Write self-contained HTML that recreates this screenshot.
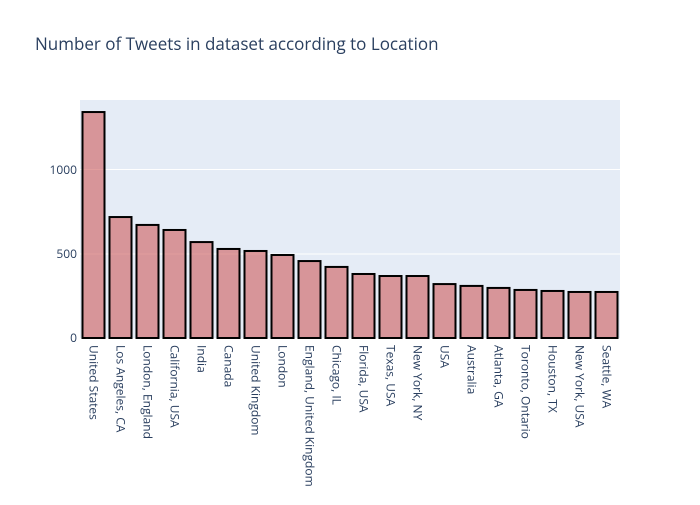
<!DOCTYPE html>
<html><head><style>body{margin:0;background:#fff}</style></head><body>
<svg width="700" height="500" xmlns="http://www.w3.org/2000/svg" font-family="'Open Sans','Liberation Sans',sans-serif">
<rect width="700" height="500" fill="#fff"/>
<text x="35" y="50" font-size="17" fill="#2a3f5f">Number of Tweets in dataset according to Location</text>
<rect x="80" y="100" width="540" height="238" fill="#e5ecf6"/>
<line x1="80" x2="620" y1="254" y2="254" stroke="#fff" stroke-width="1"/>
<line x1="80" x2="620" y1="169.5" y2="169.5" stroke="#fff" stroke-width="1"/>
<g font-size="12" fill="#2a3f5f" text-anchor="end">
<text x="77" y="342">0</text><text x="77" y="258">500</text><text x="77" y="174">1000</text>
</g>
<g id="bars" fill="rgba(205,92,92,0.6)" stroke="#000" stroke-width="2"></g>
<g id="labels" font-size="12" fill="#2a3f5f"></g>
<script>
var d=[["United States",1345],["Los Angeles, CA",720],["London, England",673],["California, USA",643],["India",571],["Canada",530],["United Kingdom",518],["London",494],["England, United Kingdom",458],["Chicago, IL",423],["Florida, USA",381],["Texas, USA",369],["New York, NY",369],["USA",321],["Australia",310],["Atlanta, GA",298],["Toronto, Ontario",286],["Houston, TX",280],["New York, USA",274],["Seattle, WA",274]];
var b=document.getElementById('bars'),l=document.getElementById('labels'),ns='http://www.w3.org/2000/svg';
d.forEach(function(e,i){var cx=80+27*i+13.5,h=e[1]*84/500;
var r=document.createElementNS(ns,'rect');r.setAttribute('x',cx-11);r.setAttribute('y',338-h);r.setAttribute('width',22);r.setAttribute('height',h);b.appendChild(r);
var t=document.createElementNS(ns,'text');t.setAttribute('transform','translate('+(cx-4)+',345) rotate(90)');t.textContent=e[0];l.appendChild(t);});
</script>
</svg>
</body></html>
